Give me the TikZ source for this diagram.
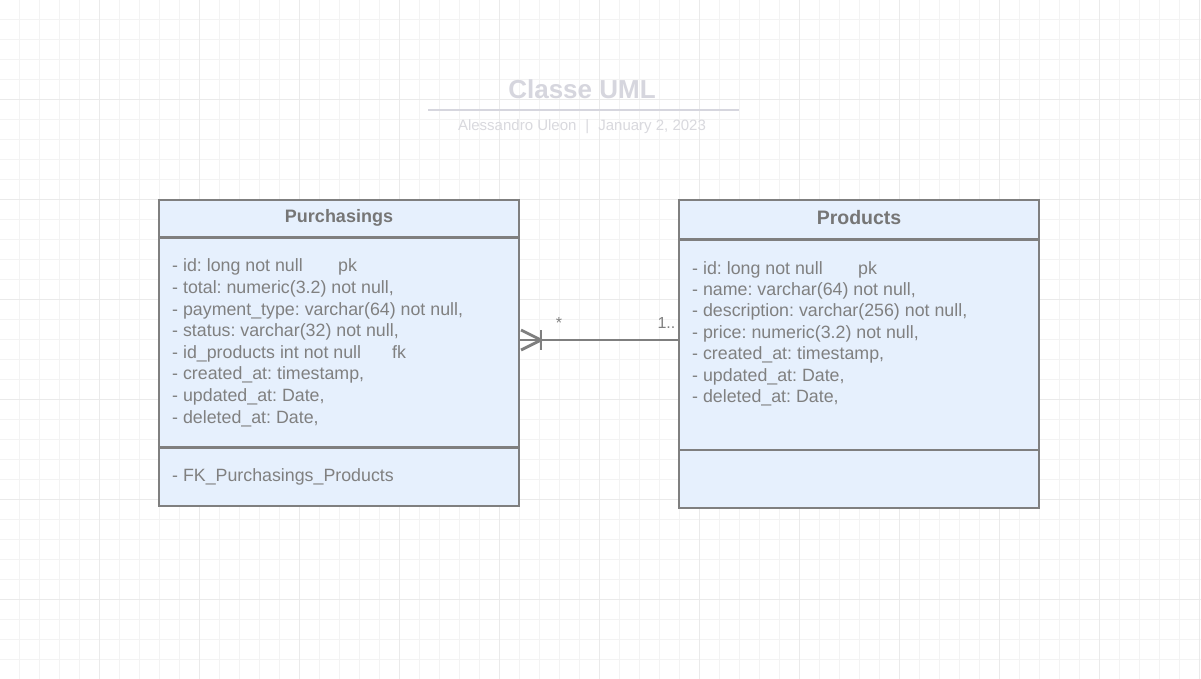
\documentclass[tikz,border=0pt]{standalone}
\usepackage{fontspec}
\setmainfont{Liberation Sans}
\frenchspacing
\definecolor{gridminor}{HTML}{F3F3F3}
\definecolor{gridmajor}{HTML}{EAEAEA}
\definecolor{boxfill}{HTML}{E6F0FD}
\definecolor{boxline}{HTML}{7F7F7F}
\definecolor{txt}{HTML}{808080}
\definecolor{headtxt}{HTML}{767676}
\definecolor{titlecol}{HTML}{D6D6DE}
\definecolor{subcol}{HTML}{D9D9DE}
\tikzset{
  classbox/.style={draw=boxline, fill=boxfill, line width=2.6pt, rectangle, inner sep=0pt, outer sep=0pt, anchor=north west},
  sepline/.style={draw=boxline, line width=2.6pt},
  attr/.style={anchor=base west, inner sep=0pt, text=txt, font=\fontsize{17.8}{21.6}\selectfont},
  head/.style={anchor=base, inner sep=0pt, text=headtxt, font=\bfseries\fontsize{18}{21.6}\selectfont},
  mult/.style={anchor=base, inner sep=0pt, text=txt, font=\fontsize{16}{19}\selectfont},
  conn/.style={draw=boxline, line width=2.9pt},
}
\begin{document}
\begin{tikzpicture}[x=1pt,y=-1pt]
\useasboundingbox (0,0) rectangle (1201,679);
\fill[white] (0,0) rectangle (1201,679);
% grid
\foreach \i in {0,...,59} {
  \draw[gridminor, line width=1pt] ({19.5+20*\i},0) -- ({19.5+20*\i},679);
}
\foreach \i in {0,...,33} {
  \draw[gridminor, line width=1pt] (0,{19.5+20*\i}) -- (1201,{19.5+20*\i});
}
\foreach \i in {0,...,11} {
  \draw[gridmajor, line width=1.2pt] ({99.5+100*\i},0) -- ({99.5+100*\i},679);
}
\foreach \i in {0,...,6} {
  \draw[gridmajor, line width=1.2pt] (0,{99.5+100*\i}) -- (1201,{99.5+100*\i});
}
% title
\node[anchor=base, inner sep=0pt, text=titlecol, font=\bfseries\fontsize{26}{30}\selectfont] (title) at (582,98.3) {Classe UML};
\coordinate (tl1) at (428,110);
\coordinate (tl2) at (739,110);
\draw[titlecol, line width=2pt] (tl1) -- (tl2);
\node[anchor=base, inner sep=0pt, text=subcol, font=\fontsize{15}{18}\selectfont] (sub) at (582,131) {Alessandro Uleon\hspace{0.6em}|\hspace{0.6em}January 2, 2023};

% Purchasings box
\node[classbox, minimum width=360pt, minimum height=306pt] (pbox) at (159,200) {};
\draw[sepline] (159,237.5) -- (519,237.5);
\draw[sepline] (159,447.5) -- (519,447.5);
\node[head] (phead) at (339,222.3) {Purchasings};
\foreach \t [count=\i from 0] in {
  {- id: long not null},
  {- total: numeric(3.2) not null,},
  {- payment\_type: varchar(64) not null,},
  {- status: varchar(32) not null,},
  {- id\_products int not null},
  {- created\_at: timestamp,},
  {- updated\_at: Date,},
  {- deleted\_at: Date,}} {
  \node[attr] (p\i) at (172,{271.8+21.6*\i}) {\t};
}
\node[attr] (ppk) at (338,271.8) {pk};
\node[attr] (pfk) at (392,{271.8+21.6*4}) {fk};
\node[attr] (pop) at (172,481.7) {- FK\_Purchasings\_Products};

% Products box
\node[classbox, minimum width=360pt, minimum height=308pt] (prbox) at (679,200) {};
\draw[sepline] (679,239.5) -- (1039,239.5);
\draw[sepline] (679,450) -- (1039,450);
\node[head, font=\bfseries\fontsize{19.5}{23}\selectfont] (prhead) at (859,224.3) {Products};
\foreach \t [count=\i from 0] in {
  {- id: long not null},
  {- name: varchar(64) not null,},
  {- description: varchar(256) not null,},
  {- price: numeric(3.2) not null,},
  {- created\_at: timestamp,},
  {- updated\_at: Date,},
  {- deleted\_at: Date,}} {
  \node[attr] (r\i) at (692,{274+21.4*\i}) {\t};
}
\node[attr] (rpk) at (858,274) {pk};

% connector
\path (pbox.north east) ++(0,140) coordinate (cl);
\path (prbox.north west) ++(0,140) coordinate (cr);
\draw[conn] (cl) -- (cr);
\draw[conn] ([shift={(2,-10)}]cl) -- ([shift={(22,0)}]cl) -- ([shift={(2,10)}]cl);
\draw[conn] ([shift={(22,-10)}]cl) -- ([shift={(22,10)}]cl);
\node[mult] (m1) at (559,328.5) {*};
\node[mult, anchor=base east] (m2) at (675.5,328.3) {1..};
\end{tikzpicture}
\end{document}
